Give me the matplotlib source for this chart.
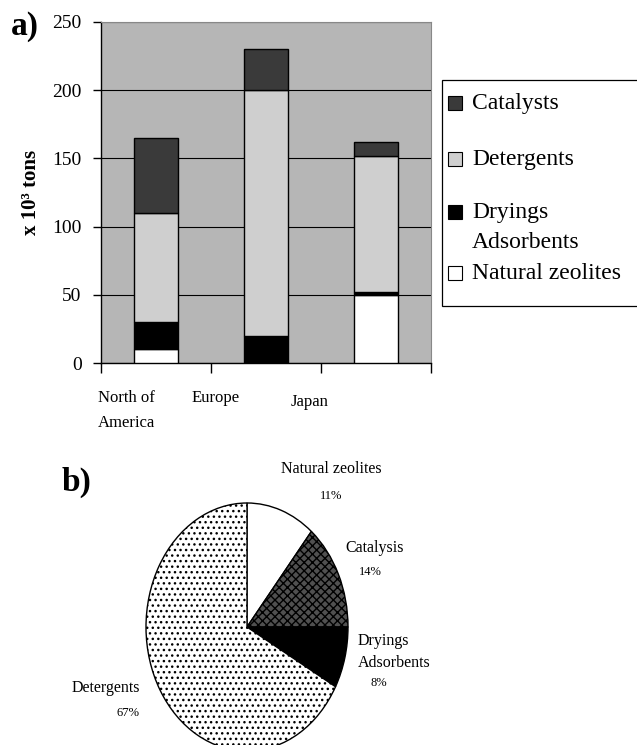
import matplotlib
matplotlib.use("Agg")
import matplotlib.pyplot as plt
from matplotlib.patches import Rectangle
import numpy as np

plt.rcParams['font.family'] = ['Liberation Serif', 'DejaVu Serif']
plt.rcParams['hatch.linewidth'] = 1.0

# ---------------- data ----------------
regions = ["North of\nAmerica", "Europe", "Japan"]
natural_zeolites = [10, 0, 50]
dryings_adsorbents = [20, 20, 2]
detergents = [80, 180, 100]
catalysts = [55, 30, 10]

series_names = ["Natural zeolites", "Dryings\nAdsorbents", "Detergents", "Catalysts"]
series_values = [natural_zeolites, dryings_adsorbents, detergents, catalysts]
series_colors = ["white", "black", "#cfcfcf", "#3a3a3a"]

yticks = [0, 50, 100, 150, 200, 250]

pie_labels = ["Natural zeolites", "Catalysis", "Dryings\nAdsorbents", "Detergents"]
pie_pct = [11, 14, 8, 67]

W, H = 637, 745
def fx(px):
    return px / W
def fy(py):
    return 1 - py / H

# ---------------- figure ----------------
fig = plt.figure(figsize=(6.37, 7.45), dpi=100)

ax = fig.add_axes([fx(101), fy(363), 330/W, 341/H])
ax.set_facecolor("#b6b6b6")
x = np.arange(len(regions))
bottom = np.zeros(len(regions))
for name, vals, col in zip(series_names, series_values, series_colors):
    ax.bar(x, vals, width=0.4, bottom=bottom, color=col, edgecolor="black",
           linewidth=1.0, label=name, zorder=3)
    bottom += np.array(vals)

ax.set_xlim(-0.5, 2.5)
ax.set_ylim(0, 250)
ax.set_yticks(yticks)
ax.set_yticklabels([str(v) for v in yticks], fontsize=14)
ax.yaxis.grid(True, color="black", linewidth=0.8, zorder=1)
ax.set_axisbelow(True)
ax.set_xticks([-0.5, 0.5, 1.5, 2.5])
ax.set_xticklabels([])
ax.tick_params(axis="x", direction="out", length=7, width=1)
ax.tick_params(axis="y", direction="out", length=6, width=1, pad=8)
for s in ["top", "right"]:
    ax.spines[s].set_color("#888888")
    ax.spines[s].set_linewidth(0.8)
for s in ["left", "bottom"]:
    ax.spines[s].set_color("black")
    ax.spines[s].set_linewidth(1.0)
ax.set_ylabel("x 10\u00b3 tons", fontsize=15, fontweight="bold", labelpad=8)

label_left = [-0.527, 0.327, 1.227]
label_y = [-20, -20, -23]
for i, lab in enumerate(regions):
    ax.text(label_left[i], label_y[i], lab, ha="left", va="top", fontsize=12,
            linespacing=1.7)

fig.text(fx(11), fy(27), "a)", fontsize=24, fontweight="bold", va="center", ha="left")

# legend (drawn as a boxed key, clipped by the right edge like the reference)
fig.patches.append(Rectangle((fx(442), fy(306)), (660-442)/W, (306-80)/H,
                             transform=fig.transFigure, facecolor="white",
                             edgecolor="black", linewidth=0.9))
leg_order = [3, 2, 1, 0]
leg_y = [103, 159, 212, 273]
for k, yy in zip(leg_order, leg_y):
    fig.patches.append(Rectangle((fx(448), fy(yy + 7)), 14/W, 14/H,
                                 transform=fig.transFigure,
                                 facecolor=series_colors[k], edgecolor="black",
                                 linewidth=0.8))
    multi = "\n" in series_names[k]
    fig.text(fx(472), fy(yy - 10) if multi else fy(yy), series_names[k],
             fontsize=17, ha="left", va="top" if multi else "center",
             linespacing=1.55)

# ---------------- pie ----------------
pax = fig.add_axes([fx(146), fy(751), 202/W, 248/H])
wedges, _ = pax.pie(pie_pct, startangle=90, counterclock=False,
                    colors=["white", "#505050", "black", "white"],
                    wedgeprops=dict(edgecolor="black", linewidth=1.0))
wedges[1].set_hatch("xxxx")
wedges[3].set_hatch("...")
pax.set_aspect("auto")
pax.set_xlim(-1, 1)
pax.set_ylim(-1, 1)
pax.axis("off")

fig.text(fx(62), fy(482), "b)", fontsize=24, fontweight="bold", va="center", ha="left")

name_pos = [(331, 469, "center"), (375, 548, "center"), (358, 652, "left"), (106, 688, "center")]
pct_pos = [(331, 496), (370, 572), (379, 683), (128, 713)]
for lab, p, (nx, ny, ha), (px, py) in zip(pie_labels, pie_pct, name_pos, pct_pos):
    fig.text(fx(nx), fy(ny), lab, fontsize=11.5, ha=ha, va="center", linespacing=1.45)
    fig.text(fx(px), fy(py), f"{p}%", fontsize=9, ha="center", va="center")

fig.savefig("out.png", dpi=100)
